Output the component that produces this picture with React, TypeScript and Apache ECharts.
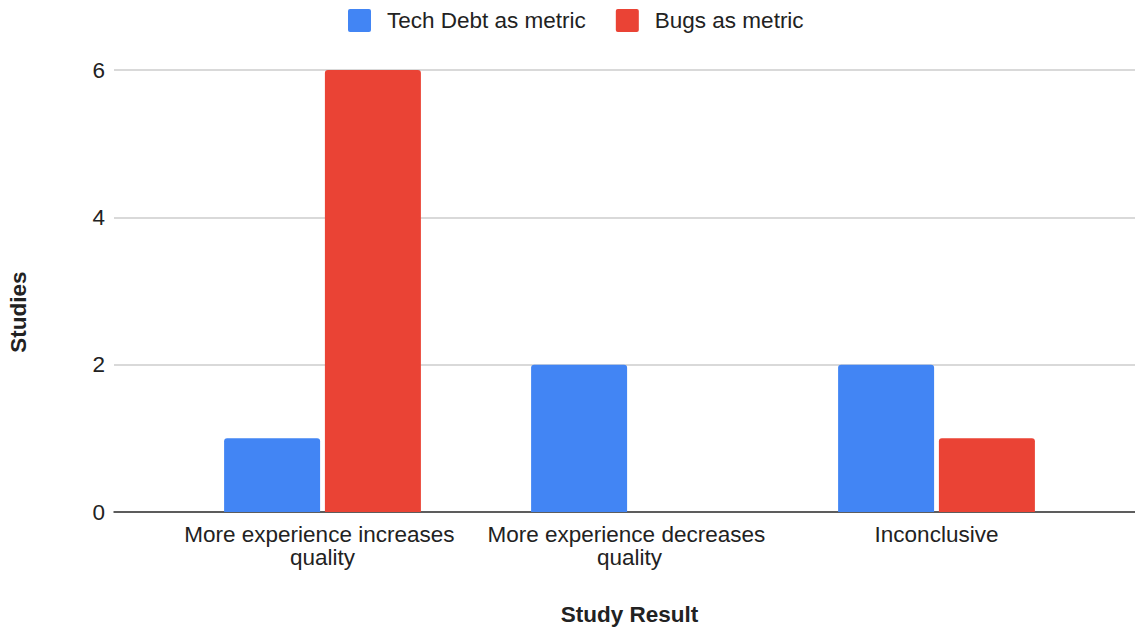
import React, { useEffect, useRef } from "react";
import * as echarts from "echarts";

const categories = [
  "More experience increases quality",
  "More experience decreases quality",
  "Inconclusive",
];
const techDebt = [1, 2, 2];
const bugs = [6, 0, 1];
const yTicks = { min: 0, max: 6, interval: 2 };

const FONT = "'Liberation Sans', Arial, sans-serif";
const FS = 22.5;
const SQUARE_ICON =
  "path://M2,0H21A2,2 0 0 1 23,2V21A2,2 0 0 1 21,23H2A2,2 0 0 1 0,21V2A2,2 0 0 1 2,0Z";

export default function App() {
  const ref = useRef<HTMLDivElement>(null);
  useEffect(() => {
    if (!ref.current) return;
    const chart = echarts.init(ref.current, undefined, { renderer: "svg" });
    chart.setOption({
      animation: false,
      backgroundColor: "#ffffff",
      textStyle: { fontFamily: FONT },
      legend: {
        top: 9,
        left: 348,
        padding: 0,
        itemWidth: 23,
        itemHeight: 23,
        itemGap: 30,
        icon: SQUARE_ICON,
        textStyle: { fontSize: FS, color: "#222", fontFamily: FONT, padding: [0, 0, 0, 11] },
        data: ["Tech Debt as metric", "Bugs as metric"],
      },
      grid: [
        { left: 114, right: 0, top: 70, bottom: 115, outerBoundsMode: "none" },
        { left: 169, width: 921, top: 70, bottom: 115, outerBoundsMode: "none" },
      ],
      xAxis: [
        {
          gridIndex: 0,
          type: "category",
          data: categories,
          axisLine: { lineStyle: { color: "#333", width: 1.5 } },
          axisTick: { show: false },
          axisLabel: { show: false },
        },
        {
          gridIndex: 1,
          type: "category",
          data: categories,
          axisLine: { show: false },
          axisTick: { show: false },
          axisLabel: {
            fontSize: FS,
            color: "#222",
            fontFamily: FONT,
            margin: 11,
            lineHeight: 23,
            width: 295,
            overflow: "break",
            interval: 0,
          },
          name: "Study Result",
          nameLocation: "middle",
          nameGap: 91,
          nameTextStyle: { fontSize: FS, fontWeight: "bold", color: "#222", fontFamily: FONT },
        },
      ],
      yAxis: [
        {
          gridIndex: 0,
          type: "value",
          min: yTicks.min,
          max: yTicks.max,
          interval: yTicks.interval,
          axisLine: { show: false },
          axisTick: { show: false },
          axisLabel: { fontSize: FS, color: "#222", margin: 9, fontFamily: FONT },
          splitLine: { lineStyle: { color: "#cccccc", width: 1.5 } },
          name: "Studies",
          nameLocation: "middle",
          nameRotate: 90,
          nameGap: 84,
          nameTextStyle: {
            fontSize: FS,
            fontWeight: "bold",
            color: "#222",
            fontFamily: FONT,
            padding: [0, 42, 0, 0],
          },
        },
        {
          gridIndex: 1,
          type: "value",
          min: yTicks.min,
          max: yTicks.max,
          interval: yTicks.interval,
          show: false,
          splitLine: { show: false },
        },
      ],
      series: [
        {
          name: "Tech Debt as metric",
          type: "bar",
          xAxisIndex: 1,
          yAxisIndex: 1,
          data: techDebt,
          barWidth: 96,
          barGap: "5%",
          itemStyle: { color: "#4285F4", borderRadius: [3, 3, 0, 0] },
        },
        {
          name: "Bugs as metric",
          type: "bar",
          xAxisIndex: 1,
          yAxisIndex: 1,
          data: bugs,
          barWidth: 96,
          barGap: "5%",
          itemStyle: { color: "#EA4335", borderRadius: [3, 3, 0, 0] },
        },
      ],
    });
    return () => chart.dispose();
  }, []);
  return <div ref={ref} style={{ width: 1135, height: 627, position: "absolute", left: 0, top: 0 }} />;
}
